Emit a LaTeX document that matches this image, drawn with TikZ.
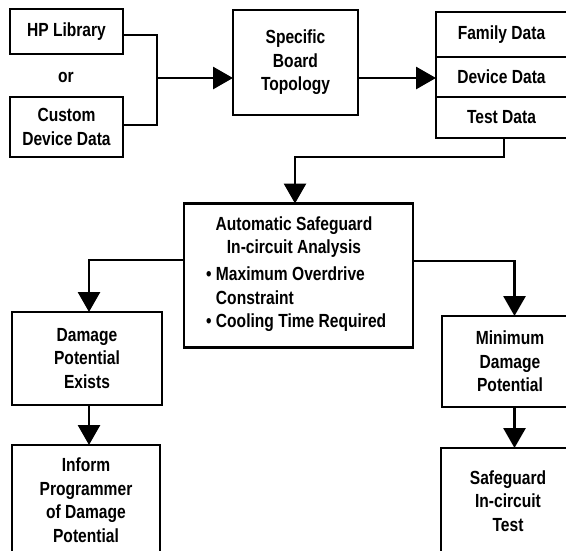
\documentclass[tikz,border=0pt]{standalone}
\usepackage{fontspec}
\setmainfont{Liberation Sans}[FakeStretch=0.82]
\usetikzlibrary{arrows.meta,calc}
\begin{document}
\begin{tikzpicture}[x=1pt,y=-1pt,
  box/.style={draw, line width=2.8pt, inner sep=0pt, outer sep=0pt, align=center,
    font=\fontsize{19}{23.5}\selectfont\bfseries},
  txt/.style={inner sep=0pt, font=\fontsize{19}{23.5}\selectfont\bfseries},
  conn/.style={line width=2.9pt},
  arr/.style={conn, -{Triangle[length=20pt,width=22pt]}}]
\useasboundingbox (0,0) rectangle (566,550);
\clip (0,0) rectangle (566,550);
% top row
\node[box, minimum width=113pt, minimum height=45pt] (hp) at (66.5,31.5) {HP Library};
\node[txt] (or) at (66,77) {or};
\node[box, minimum width=113pt, minimum height=60pt] (cust) at (66.5,127) {Custom\\Device Data};
\node[box, minimum width=125pt, minimum height=105pt] (sbt) at (295.5,62.5) {Specific\\Board\\Topology};
\node[box, minimum width=136pt, minimum height=45pt] (family) at (504,34.5) {\hspace*{-5pt}Family Data};
\node[box, minimum width=136pt, minimum height=40pt] (device) at (504,77) {\hspace*{-5pt}Device Data};
\node[box, minimum width=136pt, minimum height=41pt] (test) at (504,117.5) {\hspace*{-5pt}Test Data};
% center
\node[box, minimum width=229pt, minimum height=144pt] (cbox) at (298.5,275.5) {};
\node[txt, align=center] (ctitle) at (294,237) {Automatic Safeguard\\In-circuit Analysis};
\node[txt, align=left, anchor=west] (cbul) at (206,299.5) {\textbullet\ Maximum Overdrive\\\hphantom{\textbullet\ }Constraint\\\textbullet\ Cooling Time Required};
% lower
\node[box, minimum width=150pt, minimum height=93pt] (damage) at (87,358.5) {Damage\\Potential\\Exists};
\node[box, minimum width=148pt, minimum height=110pt] (inform) at (86,500) {Inform\\Programmer\\of Damage\\Potential};
\node[box, minimum width=136pt, minimum height=91pt] (minimum) at (510,361.5) {Minimum\\Damage\\Potential};
\node[box, minimum width=134pt, minimum height=106pt] (safe) at (508,501) {Safeguard\\In-circuit\\Test};
% connectors
\coordinate (j1) at (157,78);
\draw[conn] ($(hp.east)+(0,3.5)$) -| (j1) |- ($(cust.east)+(0,-2)$);
\draw[arr] (j1) -- (j1 -| sbt.west);
\draw[arr] (sbt.east |- j1) -- (j1 -| device.west);
\coordinate (j2) at (504,157);
\coordinate (j3) at (295,157);
\draw[arr] (test.south -| j2) -- (j2) -- (j3) -- (j3 |- cbox.north);
\coordinate (j4) at (89,260);
\draw[arr] (cbox.west |- j4) -- (j4) -- (j4 |- damage.north);
\coordinate (j5) at (514.5,261);
\draw[arr] (cbox.east |- j5) -- (j5) -- (j5 |- minimum.north);
\draw[arr] (damage.south -| j4) -- (inform.north -| j4);
\draw[arr] (minimum.south -| j5) -- (safe.north -| j5);
\end{tikzpicture}
\end{document}
